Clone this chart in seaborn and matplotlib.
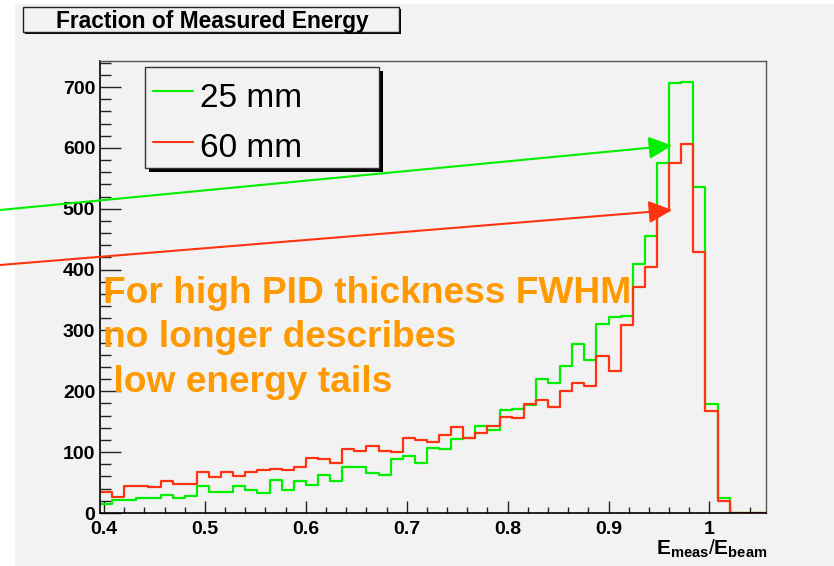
import numpy as np
import pandas as pd
import matplotlib
matplotlib.use("Agg")
import matplotlib.pyplot as plt
from matplotlib.patches import Rectangle
from matplotlib.lines import Line2D
from matplotlib.ticker import FixedLocator, MultipleLocator
import seaborn as sns

# ---- histogram binning (55 bins of width 0.012 starting at 0.396) ----
bin_start = 0.396
bin_width = 0.012

# ---- bin contents ----
counts_25mm = [14, 21, 21, 25, 25, 30, 25, 28, 45, 34,
               35, 45, 37, 33, 55, 37, 52, 46, 62, 52,
               75, 75, 65, 62, 89, 94, 83, 107, 105, 122,
               124, 143, 137, 169, 171, 178, 220, 213, 242, 277,
               252, 311, 322, 324, 410, 456, 575, 707, 709, 536,
               179, 24, 0, 0, 0]
counts_60mm = [35, 26, 45, 45, 42, 53, 48, 48, 67, 59,
               68, 61, 67, 70, 73, 70, 75, 90, 88, 83,
               105, 102, 110, 102, 100, 124, 120, 116, 128, 141,
               123, 131, 143, 158, 156, 179, 186, 175, 201, 213,
               208, 258, 234, 309, 372, 404, 498, 575, 607, 429,
               168, 20, 0, 0, 0]

series_labels = ["25 mm", "60 mm"]
series_colors = ["#00f000", "#ff3311"]

x_ticks = [0.4, 0.5, 0.6, 0.7, 0.8, 0.9, 1.0]
x_tick_labels = ["0.4", "0.5", "0.6", "0.7", "0.8", "0.9", "1"]
y_ticks = [0, 100, 200, 300, 400, 500, 600, 700]
y_tick_labels = ["0", "100", "200", "300", "400", "500", "600", "700"]

title_text = "Fraction of Measured Energy"
x_label = r"$\mathbf{E}_{\mathbf{meas}}/\mathbf{E}_{\mathbf{beam}}$"
note_lines = ["For high PID thickness FWHM", "no longer describes", " low energy tails"]
note_color = "#ff9900"

# arrow tips (data coordinates) for the two annotations
arrow_tips = [(0.963, 604), (0.963, 498)]

# ---- style ----
sns.set_style("ticks")
plt.rcParams["font.family"] = ["Liberation Sans", "DejaVu Sans"]
plt.rcParams["text.color"] = "black"
plt.rcParams["xtick.labelcolor"] = "black"
plt.rcParams["ytick.labelcolor"] = "black"
plt.rcParams["mathtext.fontset"] = "custom"
plt.rcParams["mathtext.bf"] = "Liberation Sans:bold"
plt.rcParams["mathtext.rm"] = "Liberation Sans"
plt.rcParams["mathtext.it"] = "Liberation Sans:italic"

W, H = 834, 566
BG = "#f2f2f2"
fig = plt.figure(figsize=(W / 100, H / 100), dpi=100)
fig.patch.set_facecolor("white")


def fx(px):
    return px / W


def fy(py):
    return 1 - py / H


# grey canvas
fig.add_artist(Rectangle((fx(15), 0), 1 - fx(15), fy(4), transform=fig.transFigure,
                         facecolor=BG, edgecolor="none", zorder=-5))

ax = fig.add_axes([fx(100), fy(513), fx(766) - fx(100), fy(61) - fy(513)])
ax.set_facecolor(BG)

# ---- histograms ----
n_bins = len(counts_25mm)
edges = bin_start + bin_width * np.arange(n_bins + 1)
centers = 0.5 * (edges[:-1] + edges[1:])
for counts, label, color in zip([counts_25mm, counts_60mm], series_labels, series_colors):
    df = pd.DataFrame({"ratio": centers, "entries": counts})
    sns.histplot(data=df, x="ratio", weights="entries", bins=edges.tolist(), element="step",
                 fill=False, color=color, linewidth=1.6, ax=ax, label=label)

ax.set_xlim(edges[0], edges[-1])
ax.set_ylim(0, 743)
ax.set_xlabel("")
ax.set_ylabel("")

# ---- axes / ticks ----
for side in ["left", "bottom"]:
    ax.spines[side].set_color("black")
    ax.spines[side].set_linewidth(1.2)
for side in ["top", "right"]:
    ax.spines[side].set_visible(True)
    ax.spines[side].set_color("#555555")
    ax.spines[side].set_linewidth(1.0)

ax.xaxis.set_major_locator(FixedLocator(x_ticks))
ax.set_xticklabels(x_tick_labels)
ax.xaxis.set_minor_locator(MultipleLocator(0.02))
ax.yaxis.set_major_locator(FixedLocator(y_ticks))
ax.set_yticklabels(y_tick_labels)
ax.yaxis.set_minor_locator(MultipleLocator(20))

ax.tick_params(axis="x", which="major", direction="in", length=8.8, width=1.0,
               color="#222222", labelcolor="black", pad=5.5, labelsize=14,
               top=False, bottom=True)
ax.tick_params(axis="x", which="minor", direction="in", length=4.3, width=1.0,
               color="#222222", top=False, bottom=True)
ax.tick_params(axis="y", which="major", direction="in", length=15, width=1.0,
               color="#222222", labelcolor="black", pad=3.5, labelsize=14,
               right=False, left=True)
ax.tick_params(axis="y", which="minor", direction="in", length=8, width=1.0,
               color="#222222", right=False, left=True)
for lab in ax.get_xticklabels() + ax.get_yticklabels():
    lab.set_fontweight("bold")

# ---- arrows from the left margin to the distributions ----
tails_px = [(0, 210), (0, 265)]
for (tx, ty), tip, color in zip(tails_px, arrow_tips, series_colors):
    ax.annotate("", xy=tip, xycoords="data",
                xytext=(tx, H - ty), textcoords="figure pixels",
                arrowprops=dict(arrowstyle="-|>,head_length=0.8,head_width=0.38",
                                mutation_scale=18, color=color, lw=1.5,
                                shrinkA=0, shrinkB=0),
                annotation_clip=False, zorder=6)

# ---- orange note ----
for line, base in zip(note_lines, [303, 347, 392]):
    fig.text(fx(103), fy(base), line, color=note_color, fontsize=26.7,
             fontweight="bold", ha="left", va="baseline", zorder=10)

# ---- title box ----
fig.add_artist(Rectangle((fx(25), fy(34)), fx(401) - fx(25), fy(9) - fy(34),
                         transform=fig.transFigure, facecolor="black",
                         edgecolor="none", zorder=3))
fig.add_artist(Rectangle((fx(23), fy(32)), fx(399) - fx(23), fy(7) - fy(32),
                         transform=fig.transFigure, facecolor=BG,
                         edgecolor="#222222", linewidth=1.0, zorder=4))
fig.text(fx(212), fy(28), title_text, fontsize=16.4, fontweight="bold",
         color="black", ha="center", va="baseline", zorder=5)

# ---- legend box ----
fig.add_artist(Rectangle((fx(148.5), fy(172.5)), fx(382.5) - fx(148.5), fy(71) - fy(172.5),
                         transform=fig.transFigure, facecolor="black",
                         edgecolor="none", zorder=7))
fig.add_artist(Rectangle((fx(144.5), fy(168.3)), fx(378.7) - fx(144.5), fy(66.7) - fy(168.3),
                         transform=fig.transFigure, facecolor=BG,
                         edgecolor="#333333", linewidth=1.0, zorder=8))
for label, color, ly, tb in zip(series_labels, series_colors, [90.7, 141.7], [107.3, 156.7]):
    fig.add_artist(Line2D([fx(153), fx(193)], [fy(ly), fy(ly)], transform=fig.transFigure,
                          color=color, lw=1.5, zorder=9))
    fig.text(fx(200), fy(tb), label, fontsize=24, color="black",
             ha="left", va="baseline", zorder=9)

# ---- x axis title ----
fig.text(fx(767), fy(555), x_label, fontsize=15, color="black", ha="right", va="baseline")

fig.savefig("out.png", dpi=100, facecolor=fig.get_facecolor())
